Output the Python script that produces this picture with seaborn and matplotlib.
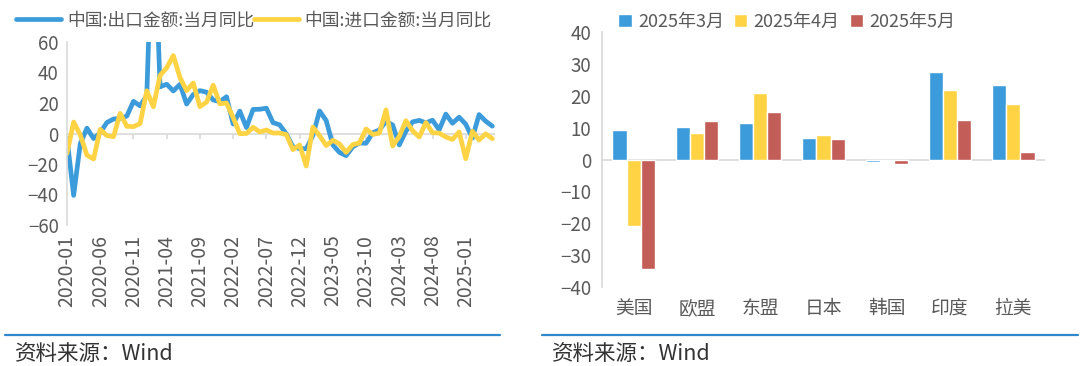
import pandas as pd
import numpy as np
import matplotlib
matplotlib.use("Agg")
import matplotlib.pyplot as plt
from matplotlib.lines import Line2D
import seaborn as sns

# 左图：中国进出口金额当月同比（%），2020-01 至 2025-05
months = pd.date_range("2020-01-01", periods=65, freq="MS").strftime("%Y-%m").tolist()

export_yoy = [
    -3.0, -40.6, -6.6, 3.5, -3.3, 0.5, 7.2, 9.5, 9.9, 11.4, 21.1, 18.1,
    24.9, 154.9, 30.6, 32.3, 27.9, 32.2, 19.3, 25.6, 28.1, 27.1, 22.0, 20.9,
    24.1, 6.2, 14.7, 3.9, 15.8, 15.9, 16.6, 7.1, 5.7, -0.3, -8.7, -9.9,
    -10.0, -1.3, 14.8, 8.5, -7.5, -12.4, -14.5, -8.8, -6.2, -6.4, 0.5, 2.3,
    8.0, 5.6, -7.5, 1.5, 7.6, 8.6, 7.0, 8.7, 2.4, 12.7, 6.7, 10.7,
    6.1, -3.0, 12.4, 8.1, 4.8,
]
import_yoy = [
    -13.0, 7.5, -0.9, -14.2, -16.7, 2.7, -1.4, -2.1, 13.2, 4.7, 4.5, 6.5,
    28.0, 17.5, 38.1, 43.1, 51.1, 36.7, 28.1, 33.1, 17.6, 20.6, 31.7, 19.5,
    20.0, 10.5, -0.1, 0.0, 4.1, 1.0, 2.3, 0.3, 0.3, -0.7, -10.6, -7.5,
    -21.3, 4.2, -1.4, -7.9, -4.5, -6.8, -12.4, -7.3, -6.2, 3.0, -0.6, 0.2,
    15.5, -8.2, -1.9, 8.4, 1.8, -2.3, 7.2, 0.5, 0.3, -2.3, -3.9, 1.0,
    -16.5, 1.5, -4.3, -0.2, -3.4,
]
line_names = ["中国:出口金额:当月同比", "中国:进口金额:当月同比"]

# 右图：对主要地区出口同比（%）
regions = ["美国", "欧盟", "东盟", "日本", "韩国", "印度", "拉美"]
bar_months = ["2025年3月", "2025年4月", "2025年5月"]
mar_2025 = [9.1, 10.2, 11.6, 6.7, -0.9, 27.3, 23.4]
apr_2025 = [-21.0, 8.3, 20.8, 7.8, 0.0, 21.7, 17.3]
may_2025 = [-34.5, 12.0, 15.0, 6.3, -1.3, 12.4, 2.4]

BLUE = "#3C9BDA"
YELLOW = "#FFD343"
RED = "#C25D58"
GRID = "#D9D9D9"
TXT = "#595959"

sns.set_theme(style="white")
plt.rcParams["font.family"] = ["Noto Sans CJK SC", "DejaVu Sans"]
plt.rcParams["axes.unicode_minus"] = True

fig = plt.figure(figsize=(10.8, 3.66), dpi=100)
ax1 = fig.add_axes([67 / 1080, 1 - 225 / 366, (495 - 67) / 1080, (225 - 42) / 366])
ax2 = fig.add_axes([602 / 1080, 1 - 287 / 366, (1045 - 602) / 1080, (287 - 32) / 366])

# ---- 左图 折线 ----
df_line = pd.DataFrame({
    "idx": list(range(len(months))) * 2,
    "value": export_yoy + import_yoy,
    "series": [line_names[0]] * len(months) + [line_names[1]] * len(months),
})
sns.lineplot(data=df_line, x="idx", y="value", hue="series",
             palette=[BLUE, YELLOW], linewidth=3.4, ax=ax1)
handles1, labels1 = ax1.get_legend_handles_labels()
ax1.get_legend().remove()

ax1.set_ylim(-60, 60)
ax1.set_xlim(0, len(months) - 0.6)
ax1.set_yticks(np.arange(-60, 61, 20))
tick_pos = list(range(0, len(months), 5))
ax1.set_xticks(tick_pos)
ax1.set_xticklabels([months[i] for i in tick_pos], rotation=90)
ax1.axhline(0, color=GRID, lw=1.2, zorder=0)
ax1.vlines(tick_pos, -3.5, 0, color=GRID, lw=1.2, zorder=0)
ax1.set_xlabel("")
ax1.set_ylabel("")
for s in ["top", "right", "bottom"]:
    ax1.spines[s].set_visible(False)
ax1.spines["left"].set_color(GRID)
ax1.spines["left"].set_linewidth(1.2)
ax1.tick_params(axis="y", length=0, labelsize=13.5, labelcolor=TXT, pad=6)
ax1.tick_params(axis="x", length=0, labelsize=14, labelcolor=TXT, pad=7)

fig.legend(handles1, labels1, loc="center left", bbox_to_anchor=(0.015, 0.945),
           ncol=2, frameon=False, fontsize=12.8, handlelength=2.5,
           handletextpad=0.35, columnspacing=0.0, borderpad=0, borderaxespad=0,
           labelcolor=TXT)

# ---- 右图 柱状 ----
df_bar = pd.DataFrame({
    "region": regions * 3,
    "value": mar_2025 + apr_2025 + may_2025,
    "month": [bar_months[0]] * 7 + [bar_months[1]] * 7 + [bar_months[2]] * 7,
})
sns.barplot(data=df_bar, x="region", y="value", hue="month",
            palette=[BLUE, YELLOW, RED], width=0.67, saturation=1, ax=ax2)
handles2, labels2 = ax2.get_legend_handles_labels()
ax2.get_legend().remove()

ax2.set_ylim(-40, 40)
ax2.set_xlim(-0.5, 6.5)
ax2.set_yticks(np.arange(-40, 41, 10))
ax2.axhline(0, color=GRID, lw=1.2, zorder=0)
ax2.set_xlabel("")
ax2.set_ylabel("")
for s in ["top", "right", "bottom"]:
    ax2.spines[s].set_visible(False)
ax2.spines["left"].set_color(GRID)
ax2.spines["left"].set_linewidth(1.2)
ax2.tick_params(axis="y", length=5, width=1.2, color=GRID, labelsize=13.5, labelcolor=TXT, pad=3)
ax2.tick_params(axis="x", length=0, labelsize=13.5, labelcolor=TXT, pad=8)

fig.legend(handles2, labels2, loc="center left", bbox_to_anchor=(618 / 1080, 0.94),
           ncol=3, frameon=False, fontsize=13, handlelength=0.75, handleheight=0.75,
           handletextpad=0.35, columnspacing=0.55, borderpad=0, borderaxespad=0,
           labelcolor=TXT)

# ---- 底部来源 ----
LINE_BLUE = "#2F88CC"
fig.add_artist(Line2D([5 / 1080, 500 / 1080], [1 - 335 / 366] * 2,
                      transform=fig.transFigure, color=LINE_BLUE, lw=1.6))
fig.add_artist(Line2D([542 / 1080, 1078 / 1080], [1 - 335 / 366] * 2,
                      transform=fig.transFigure, color=LINE_BLUE, lw=1.6))
fig.text(15 / 1080, 1 - 354 / 366, "资料来源：Wind", fontsize=15.5, color="#333333", va="center")
fig.text(552 / 1080, 1 - 354 / 366, "资料来源：Wind", fontsize=15.5, color="#333333", va="center")

fig.savefig("out.png", dpi=100)
